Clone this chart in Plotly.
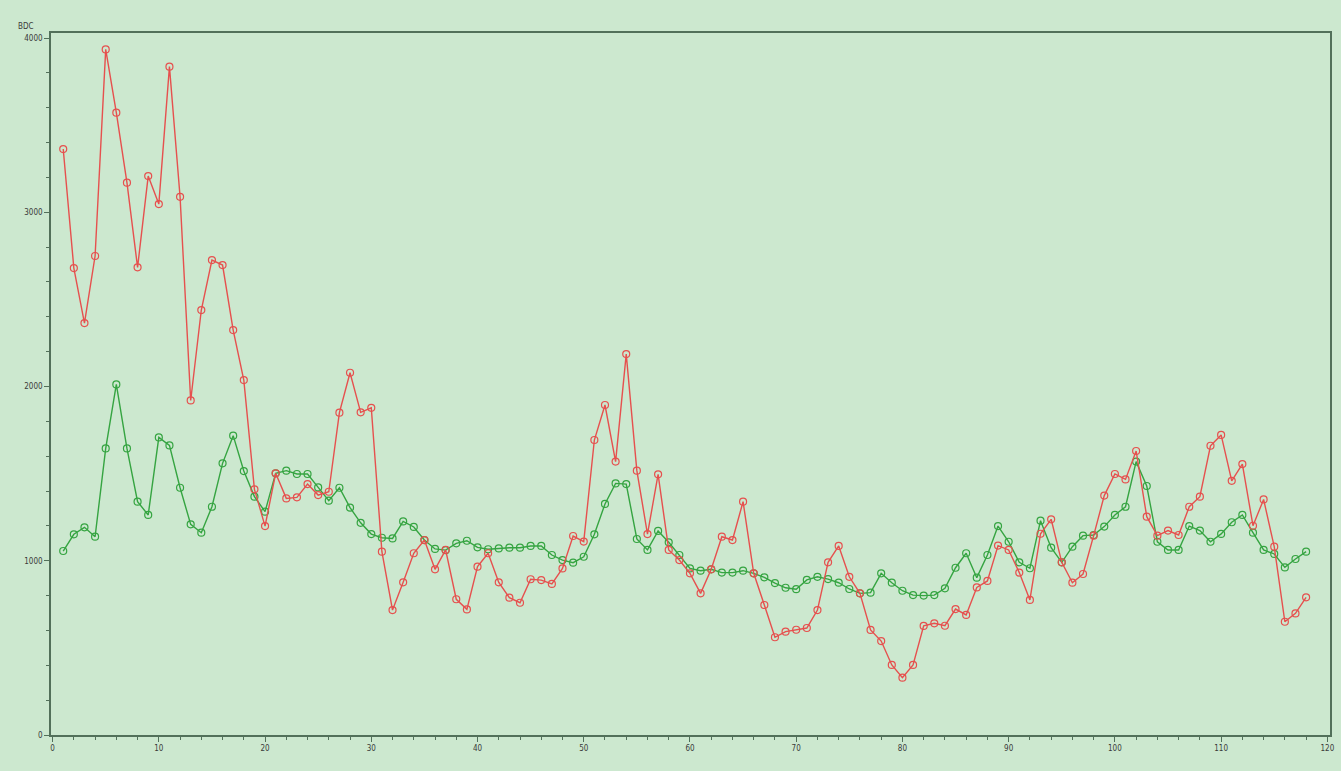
import plotly.graph_objects as go

x_vals = list(range(1, 119))

red_series = [3363, 2680, 2364, 2749, 3935, 3572, 3170, 2684, 3208, 3047,
              3836, 3089, 1920, 2439, 2726, 2697, 2324, 2037, 1410, 1199,
              1502, 1358, 1364, 1440, 1377, 1396, 1850, 2079, 1852, 1878,
              1052, 717, 876, 1043, 1119, 951, 1062, 779, 721, 966,
              1043, 876, 788, 759, 894, 889, 867, 956, 1142, 1110,
              1693, 1894, 1569, 2186, 1517, 1153, 1496, 1062, 1004, 928,
              813, 951, 1138, 1119, 1339, 928, 746, 561, 593, 604,
              614, 717, 991, 1085, 908, 813, 603, 539, 402, 329,
              402, 626, 641, 627, 723, 689, 847, 884, 1087, 1062,
              932, 775, 1155, 1238, 991, 874, 924, 1144, 1374, 1498,
              1467, 1630, 1253, 1144, 1173, 1148, 1310, 1368, 1660, 1722,
              1459, 1555, 1201, 1352, 1081, 650, 698, 790]

green_series = [1056, 1152, 1192, 1138, 1645, 2012, 1645, 1339, 1263, 1708,
                1662, 1419, 1209, 1161, 1310, 1559, 1718, 1515, 1368, 1282,
                1502, 1517, 1498, 1498, 1421, 1345, 1419, 1305, 1218, 1153,
                1132, 1128, 1226, 1194, 1119, 1068, 1061, 1100, 1115, 1077,
                1066, 1071, 1075, 1075, 1085, 1085, 1033, 1004, 989, 1023,
                1152, 1326, 1444, 1440, 1125, 1062, 1171, 1106, 1033, 956,
                943, 951, 932, 932, 943, 928, 905, 872, 845, 837,
                890, 908, 895, 874, 838, 813, 817, 928, 874, 828,
                803, 800, 803, 842, 960, 1043, 903, 1033, 1199, 1109,
                991, 957, 1230, 1075, 991, 1081, 1144, 1148, 1196, 1263,
                1310, 1569, 1429, 1109, 1062, 1062, 1199, 1173, 1109, 1154,
                1221, 1263, 1161, 1062, 1039, 962, 1010, 1052]

x_tick_vals = list(range(0, 121, 10))
y_tick_vals = [0, 1000, 2000, 3000, 4000]
y_title = "BDC"

bg = "#cce8cf"
axis_col = "#52705a"
red = "#e6504e"
green = "#35a441"

fig = go.Figure()
fig.add_trace(go.Scatter(
    x=x_vals, y=green_series, mode="lines+markers",
    line=dict(color=green, width=1.4),
    marker=dict(symbol="circle-open", size=7, color=green, line=dict(width=1.2)),
    showlegend=False))
fig.add_trace(go.Scatter(
    x=x_vals, y=red_series, mode="lines+markers",
    line=dict(color=red, width=1.4),
    marker=dict(symbol="circle-open", size=7, color=red, line=dict(width=1.2)),
    showlegend=False))

tickfont = dict(family="DejaVu Sans Condensed, DejaVu Sans, sans-serif", size=8, color="#3a3a3a")

fig.update_layout(
    width=1341, height=771,
    margin=dict(l=51, r=6, t=33, b=36),
    paper_bgcolor=bg, plot_bgcolor=bg,
    xaxis=dict(range=[-0.15, 120.25], tickvals=x_tick_vals,
               ticks="outside", ticklen=5, tickcolor=axis_col, tickwidth=1.2,
               showline=True, mirror=True, linecolor=axis_col, linewidth=1.6,
               showgrid=False, zeroline=False, tickfont=tickfont,
               minor=dict(dtick=2, tick0=0, ticks="outside", ticklen=3,
                          tickcolor=axis_col, tickwidth=1.1, showgrid=False)),
    yaxis=dict(range=[0, 4029], tickvals=y_tick_vals,
               ticks="outside", ticklen=5, tickcolor=axis_col, tickwidth=1.2,
               showline=True, mirror=True, linecolor=axis_col, linewidth=1.6,
               showgrid=False, zeroline=False, tickfont=tickfont,
               minor=dict(dtick=200, tick0=0, ticks="outside", ticklen=3,
                          tickcolor=axis_col, tickwidth=1.1, showgrid=False)),
    annotations=[dict(text=y_title, xref="paper", yref="paper",
                      x=-0.012, y=1.0 + 7 / 702, xanchor="right", yanchor="middle",
                      showarrow=False, font=tickfont)],
)

fig.write_html("out.html")
